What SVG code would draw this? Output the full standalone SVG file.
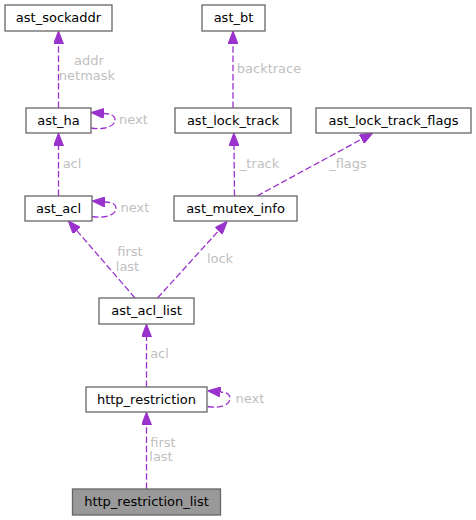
<svg xmlns="http://www.w3.org/2000/svg" width="476" height="520" viewBox="0 0 476 520">
<style>
.n rect{fill:#ffffff;stroke:#666666;stroke-width:1.3}
.cur rect{fill:#999999;stroke:#666666;stroke-width:1.3}
.n text,.cur text{font-family:"DejaVu Sans",sans-serif;font-size:13px;fill:#000000;text-anchor:middle}
.e path,.e line{fill:none;stroke:#9a32cd;stroke-width:1.3;stroke-dasharray:6.5,2.7;marker-end:url(#ah)}
.lb{font-family:"DejaVu Sans",sans-serif;font-size:13px;fill:#bfbfbf;text-anchor:middle}
</style>
<defs>
<marker id="ah" viewBox="0 0 13 10" refX="0" refY="5" markerWidth="13" markerHeight="10" markerUnits="userSpaceOnUse" orient="auto">
<polygon points="0,0 13,5 0,10" fill="#9a32cd" stroke="#9a32cd" stroke-width="1"/>
</marker>
</defs>
<rect width="476" height="520" fill="#ffffff"/>
<g id="edges" class="e">
<line x1="58.5" y1="108" x2="58.5" y2="44"/>
<path d="M91,128 C103,130 115,127 115,120 C115,115 110,114 104,113.5"/>
<line x1="58.5" y1="196" x2="58.5" y2="146"/>
<path d="M92,216.5 C104,218.5 116,215.5 116,208.5 C116,203.5 111,202.5 105,202"/>
<line x1="233" y1="108" x2="233" y2="44"/>
<line x1="234.5" y1="196" x2="234" y2="146"/>
<line x1="257" y1="196" x2="361.5" y2="139.2"/>
<line x1="135" y1="298" x2="76.8" y2="230.6"/>
<line x1="157.5" y1="298" x2="218.5" y2="230.9"/>
<line x1="146.5" y1="387" x2="146.5" y2="337"/>
<path d="M207.5,406.5 C219.5,408.5 230,405.5 230,398.5 C230,393.5 226,392.5 220.5,392"/>
<line x1="146.5" y1="489" x2="146.5" y2="425"/>
</g>
<g id="labels">
<text class="lb" x="89" y="65">addr</text>
<text class="lb" x="87" y="79.5">netmask</text>
<text class="lb" x="133.5" y="124">next</text>
<text class="lb" x="72" y="168">acl</text>
<text class="lb" x="269" y="72.5">backtrace</text>
<text class="lb" x="259.5" y="167.5">_track</text>
<text class="lb" x="348" y="167.5">_flags</text>
<text class="lb" x="135" y="212">next</text>
<text class="lb" x="130" y="256">first</text>
<text class="lb" x="127.5" y="270.5">last</text>
<text class="lb" x="220" y="263">lock</text>
<text class="lb" x="159.5" y="358">acl</text>
<text class="lb" x="250" y="403">next</text>
<text class="lb" x="163" y="446.5">first</text>
<text class="lb" x="161" y="460.5">last</text>
</g>
<g id="ast_sockaddr" class="n"><rect x="5" y="5" width="107" height="26"/><text x="58.5" y="22">ast_sockaddr</text></g>
<g id="ast_bt" class="n"><rect x="202" y="5" width="63" height="26"/><text x="233.5" y="22">ast_bt</text></g>
<g id="ast_ha" class="n"><rect x="26" y="108" width="65" height="25"/><text x="58.5" y="124.5">ast_ha</text></g>
<g id="ast_lock_track" class="n"><rect x="175" y="108" width="116" height="25"/><text x="233" y="124.5">ast_lock_track</text></g>
<g id="ast_lock_track_flags" class="n"><rect x="316" y="108" width="155" height="25"/><text x="393.5" y="124.5">ast_lock_track_flags</text></g>
<g id="ast_acl" class="n"><rect x="25" y="196" width="67" height="25"/><text x="58.5" y="212.5">ast_acl</text></g>
<g id="ast_mutex_info" class="n"><rect x="174" y="196" width="123" height="25"/><text x="235.5" y="212.5">ast_mutex_info</text></g>
<g id="ast_acl_list" class="n"><rect x="99" y="298" width="95" height="26"/><text x="146.5" y="315">ast_acl_list</text></g>
<g id="http_restriction" class="n"><rect x="86" y="387" width="121" height="25"/><text x="146.5" y="403.5">http_restriction</text></g>
<g id="http_restriction_list" class="cur"><rect x="72.5" y="489" width="148" height="26"/><text x="146.5" y="506">http_restriction_list</text></g>
</svg>
